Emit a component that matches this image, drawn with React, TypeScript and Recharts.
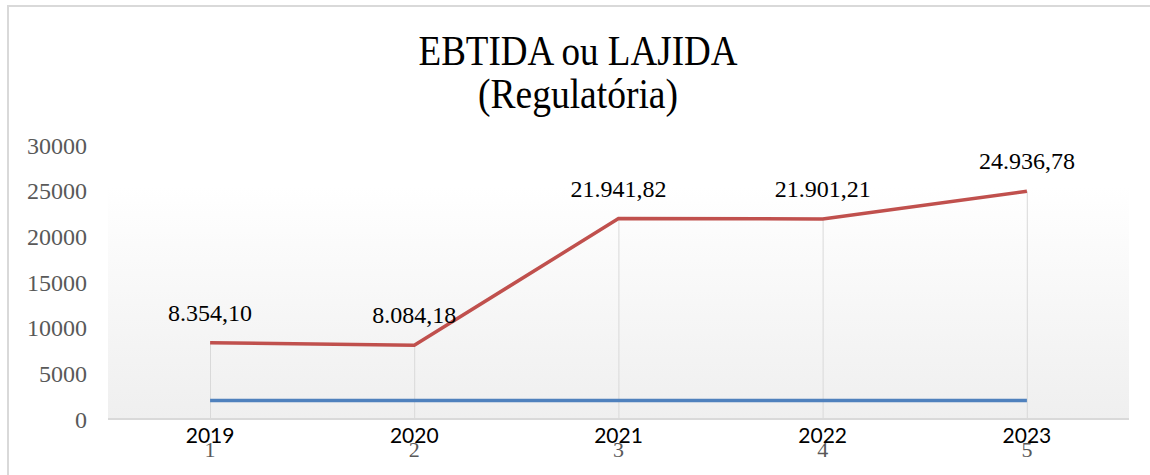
import React from 'react'
import { ComposedChart, Line, Bar, XAxis, YAxis, CartesianGrid, LabelList } from 'recharts'

const categorias = ['1', '2', '3', '4', '5']
const anos = [2019, 2020, 2021, 2022, 2023]
const ebitda = [8354.1, 8084.18, 21941.82, 21901.21, 24936.78]
const yTicks = [0, 5000, 10000, 15000, 20000, 25000, 30000]

const data = categorias.map((cat, i) => ({ cat, ano: anos[i], ebitda: ebitda[i] }))

const SERIF = '"Times New Roman", "Liberation Serif", serif'

// formato pt-BR: 8.354,10
function formatBR(v: number) {
    const [int, dec] = v.toFixed(2).split('.')
    return int.replace(/\B(?=(\d{3})+(?!\d))/g, '.') + ',' + dec
}

function RedLabel(props: any) {
    const { x, y, value } = props
    return (
        <text x={x} y={y - 22} textAnchor="middle" fontFamily={SERIF} fontSize={24} fill="#000">
            {formatBR(Number(value))}
        </text>
    )
}

function YearLabel(props: any) {
    const { x, y, value } = props
    return (
        <text x={x} y={y + 42.5} textAnchor="middle" fontFamily="Lato, sans-serif" fontSize={21} fill="#000">
            {value}
        </text>
    )
}

export default function App() {
    return (
        <div
            style={{
                position: 'absolute',
                top: 5,
                left: 7,
                width: 1160,
                height: 480,
                borderTop: '2px solid #d9d9d9',
                borderLeft: '2px solid #d9d9d9',
                background: '#fff',
            }}
        >
            <svg width={1141} height={130} style={{ position: 'absolute', left: 0, top: 0 }}>
                <text x={569} y={58} textAnchor="middle" fontFamily={SERIF} fontSize={42} fill="#000"
                    textLength={319} lengthAdjust="spacingAndGlyphs">
                    EBTIDA ou LAJIDA
                </text>
                <text x={569} y={101} textAnchor="middle" fontFamily={SERIF} fontSize={42} fill="#000"
                    textLength={200} lengthAdjust="spacingAndGlyphs">
                    (Regulatória)
                </text>
            </svg>
            <ComposedChart
                width={1141}
                height={468}
                data={data}
                margin={{ top: 138, right: 21, left: 0, bottom: 26 }}
            >
                <defs>
                    <linearGradient id="plotBg" x1="0" y1="0" x2="0" y2="1">
                        <stop offset="0%" stopColor="#ffffff" />
                        <stop offset="15%" stopColor="#ffffff" />
                        <stop offset="100%" stopColor="#efefef" />
                    </linearGradient>
                </defs>
                <CartesianGrid horizontal={false} vertical={false} fill="url(#plotBg)" />
                <XAxis
                    dataKey="cat"
                    height={30}
                    interval={0}
                    axisLine={{ stroke: '#d9d9d9', strokeWidth: 2 }}
                    tickLine={false}
                    tickSize={10}
                    tickMargin={12}
                    tick={{ fill: '#595959', fontFamily: SERIF, fontSize: 22 }}
                />
                <YAxis
                    width={99}
                    domain={[0, 30000]}
                    ticks={yTicks}
                    interval={0}
                    axisLine={false}
                    tickLine={false}
                    tickSize={10}
                    tickMargin={11}
                    tick={{ fill: '#595959', fontFamily: SERIF, fontSize: 24 }}
                />
                <Bar dataKey="ebitda" barSize={1} fill="#d9d9d9" isAnimationActive={false} />
                <Line
                    type="linear"
                    dataKey="ano"
                    stroke="#4F81BD"
                    strokeWidth={3.5}
                    dot={false}
                    isAnimationActive={false}
                >
                    <LabelList dataKey="ano" content={YearLabel} />
                </Line>
                <Line
                    type="linear"
                    dataKey="ebitda"
                    stroke="#C0504D"
                    strokeWidth={3.5}
                    dot={false}
                    isAnimationActive={false}
                >
                    <LabelList dataKey="ebitda" content={RedLabel} />
                </Line>
            </ComposedChart>
        </div>
    )
}
